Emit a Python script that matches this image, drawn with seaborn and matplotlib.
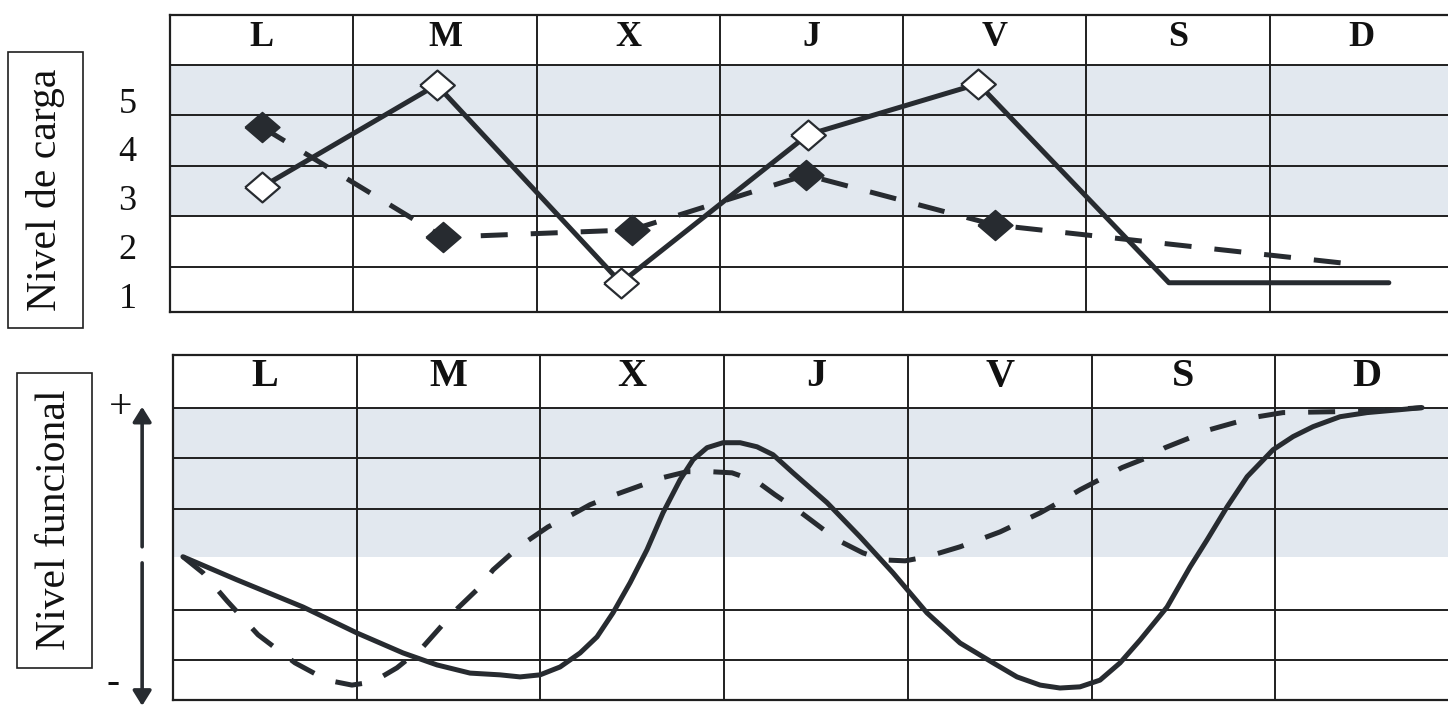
import matplotlib
matplotlib.use('Agg')
import matplotlib.pyplot as plt
from matplotlib.patches import Rectangle
import seaborn as sns

dias = ['L', 'M', 'X', 'J', 'V', 'S', 'D']

# Nivel de carga (panel superior), valores 1-5
carga_continua_x = [0.0, 0.955, 1.96, 2.98, 3.91, 4.95, 6.15]
carga_continua = [3.22, 5.31, 1.27, 4.29, 5.33, 1.27, 1.27]
carga_discontinua_x = [0.0, 0.99, 2.02, 2.97, 4.0, 6.0]
carga_discontinua = [4.45, 2.20, 2.35, 3.47, 2.45, 1.63]
niveles_carga = [1, 2, 3, 4, 5]

# Nivel funcional (panel inferior), 0 = "-" y 1 = "+"
func_continua_x = [-0.446, -0.152, 0.208, 0.502, 0.752, 0.937, 1.117, 1.280, 1.389, 1.498,
                   1.607, 1.716, 1.808, 1.895, 1.988, 2.080, 2.167, 2.260, 2.331, 2.407,
                   2.494, 2.587, 2.679, 2.766, 2.875, 3.060, 3.240, 3.419, 3.604, 3.784,
                   3.964, 4.094, 4.220, 4.328, 4.437, 4.546, 4.655, 4.764, 4.911, 5.036,
                   5.129, 5.238, 5.347, 5.488, 5.597, 5.706, 5.853, 6.000, 6.179, 6.299]
func_continua = [0.490, 0.411, 0.318, 0.229, 0.161, 0.120, 0.092, 0.086, 0.079, 0.086,
                 0.113, 0.161, 0.216, 0.298, 0.401, 0.514, 0.640, 0.753, 0.822, 0.863,
                 0.880, 0.880, 0.866, 0.839, 0.777, 0.675, 0.558, 0.435, 0.298, 0.195,
                 0.127, 0.079, 0.051, 0.041, 0.045, 0.068, 0.127, 0.205, 0.318, 0.455,
                 0.548, 0.661, 0.764, 0.856, 0.901, 0.935, 0.969, 0.983, 0.993, 1.000]
func_discontinua_x = [-0.446, -0.337, -0.206, -0.037, 0.164, 0.338, 0.474, 0.589, 0.719, 0.861,
                      1.035, 1.171, 1.242, 1.389, 1.541, 1.672, 1.770, 1.906, 2.026, 2.162,
                      2.298, 2.423, 2.543, 2.679, 2.777, 2.897, 2.984, 3.115, 3.256, 3.376,
                      3.485, 3.604, 3.784, 4.002, 4.220, 4.328, 4.437, 4.563, 4.666, 4.802,
                      4.900, 5.036, 5.145, 5.281, 5.406, 5.542, 5.815, 6.054, 6.299]
func_discontinua = [0.490, 0.435, 0.339, 0.223, 0.127, 0.068, 0.051, 0.062, 0.110, 0.182,
                    0.305, 0.387, 0.445, 0.527, 0.592, 0.634, 0.668, 0.702, 0.729, 0.760,
                    0.781, 0.781, 0.777, 0.747, 0.702, 0.651, 0.610, 0.548, 0.503, 0.479,
                    0.476, 0.490, 0.524, 0.575, 0.640, 0.678, 0.719, 0.760, 0.795, 0.829,
                    0.863, 0.897, 0.925, 0.949, 0.969, 0.983, 0.986, 0.990, 1.000]

sns.set_theme(style='white')
plt.rcParams['font.family'] = ['Liberation Serif', 'DejaVu Serif']

tinta = '#272b30'
rejilla = '#1f1f1f'
sombra = '#e2e8ef'
rombo = [(-1, 0), (0, 0.86), (1, 0), (0, -0.86), (-1, 0)]
trazo = (0, (5.4, 4.6))

W, H = 1448, 706
fig = plt.figure(figsize=(W / 100, H / 100), dpi=100)
ax1 = fig.add_axes([170 / W, 1 - 312 / H, 1283 / W, 297 / H])
ax2 = fig.add_axes([173 / W, 1 - 700 / H, 1286 / W, 345 / H])

# ---- panel superior ----
ax1.set_xlim(-0.5, 6.5)
ax1.set_ylim(0.673, 6.735)
ax1.axhspan(2.633, 5.714, color=sombra, lw=0, zorder=0)
for y in [1.592, 2.633, 3.653, 4.694, 5.714]:
    ax1.axhline(y, color=rejilla, lw=1.4, zorder=1)
for x in range(6):
    ax1.axvline(x + 0.5, color=rejilla, lw=1.4, zorder=1)
for i, d in enumerate(dias):
    ax1.text(i, 6.27, d, ha='center', va='center', fontsize=26, fontweight='bold', color='#111')

sns.lineplot(x=carga_discontinua_x, y=carga_discontinua, ax=ax1, color=tinta, linewidth=3.6,
             linestyle=trazo, marker=rombo, markersize=25, markerfacecolor=tinta,
             markeredgecolor=tinta, markeredgewidth=1.2, markevery=[0, 1, 2, 3, 4], zorder=3)
sns.lineplot(x=carga_continua_x, y=carga_continua, ax=ax1, color=tinta, linewidth=3.6,
             marker=rombo, markersize=25, markerfacecolor='white',
             markeredgecolor=tinta, markeredgewidth=1.6, markevery=[0, 1, 2, 3, 4], zorder=4)

ax1.set_xticks([])
ax1.set_yticks(niveles_carga)
ax1.set_yticklabels([str(n) for n in niveles_carga], fontsize=26, color='#111')
ax1.tick_params(axis='y', length=0, pad=24)
ax1.set_xlabel('')
ax1.set_ylabel('')

# ---- panel inferior ----
ax2.set_xlim(-0.5, 6.5)
ax2.set_ylim(0, 1.18)
ax2.axhspan(0.49, 1.0, color=sombra, lw=0, zorder=0)
for y in [0.137, 0.308, 0.654, 0.829, 1.0]:
    ax2.axhline(y, color=rejilla, lw=1.4, zorder=1)
for x in range(6):
    ax2.axvline(x + 0.5, color=rejilla, lw=1.4, zorder=1)
for i, d in enumerate(dias):
    ax2.text(i, 1.105, d, ha='center', va='center', fontsize=29, fontweight='bold', color='#111')

sns.lineplot(x=func_discontinua_x, y=func_discontinua, ax=ax2, color=tinta, linewidth=3.6,
             linestyle=trazo, sort=False, dash_joinstyle='round', zorder=3)
sns.lineplot(x=func_continua_x, y=func_continua, ax=ax2, color=tinta, linewidth=3.6,
             sort=False, solid_joinstyle='round', solid_capstyle='round', zorder=4)

ax2.set_xticks([])
ax2.set_yticks([])
ax2.set_xlabel('')
ax2.set_ylabel('')

blend = ax2.get_yaxis_transform()
flecha = dict(arrowstyle='-|>,head_length=0.45,head_width=0.28', color=tinta, lw=2.6,
              mutation_scale=20, shrinkA=0, shrinkB=0)
ax2.annotate('', xy=(-0.024, 1.003), xytext=(-0.024, 0.524), xycoords=blend, arrowprops=flecha)
ax2.annotate('', xy=(-0.024, -0.02), xytext=(-0.024, 0.469), xycoords=blend, arrowprops=flecha)
ax2.text(-0.041, 1.0, '+', transform=blend, ha='center', va='center', fontsize=30, color='#111')
ax2.text(-0.047, 0.055, '-', transform=blend, ha='center', va='center', fontsize=28, color='#111')

for ax in (ax1, ax2):
    for s in ax.spines.values():
        s.set_visible(True)
        s.set_color(rejilla)
        s.set_linewidth(1.6)

# ---- etiquetas en recuadro ----
fig.patches.append(Rectangle((8 / W, 1 - 328 / H), 75 / W, 276 / H, transform=fig.transFigure,
                             fill=False, edgecolor=rejilla, lw=1.2))
fig.text(45.5 / W, 1 - 190 / H, 'Nivel de carga', rotation=90, ha='center', va='center',
         fontsize=30, color='#111')
fig.patches.append(Rectangle((17 / W, 1 - 668 / H), 75 / W, 295 / H, transform=fig.transFigure,
                             fill=False, edgecolor=rejilla, lw=1.2))
fig.text(54.5 / W, 1 - 520 / H, 'Nivel funcional', rotation=90, ha='center', va='center',
         fontsize=30, color='#111')

fig.savefig('out.png', dpi=100)
